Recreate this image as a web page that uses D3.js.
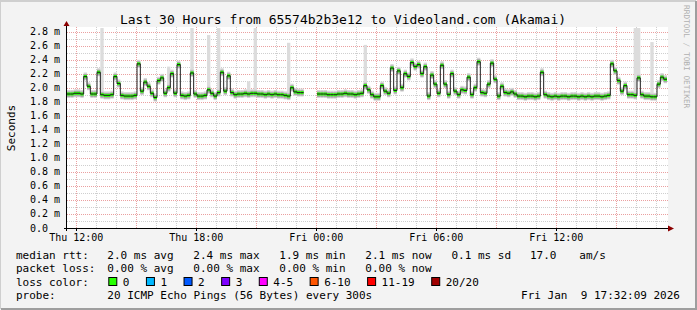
<!DOCTYPE html>
<html>
<head>
<meta charset="utf-8">
<script src="https://cdn.jsdelivr.net/npm/d3@7"></script>
<style>
  body { margin: 0; background: #f3f3f3; }
  text { font-family: "DejaVu Sans Mono", monospace; white-space: pre; }
</style>
</head>
<body>
<div id="chart"></div>
<script>
// median rtt in ms, one value per 10 minutes starting Thu 11:32 (null = no data)
const median = [
  1.91,1.91,1.92,1.92,1.91, 2.16,2.02,1.91,1.91,2.22,
  1.90,1.89,1.89,1.90,2.16, 2.06,1.89,1.88,1.88,1.88,
  1.89,2.34,1.95,2.08,2.02, 1.92,1.86,2.10,2.14,1.92,
  2.00,2.20,1.92,2.33,1.89, 1.88,1.89,2.21,1.91,1.88,
  1.88,1.89,1.97,1.92,1.88, 1.93,2.22,1.95,2.17,1.93,
  1.90,1.91,1.91,1.92,1.91, 1.92,1.92,1.91,1.91,1.90,
  1.91,1.90,1.91,1.90,1.90, 1.89,1.88,2.00,1.94,1.93,
  1.93,null,null,null,null, 1.91,1.91,1.91,1.90,1.90,
  1.90,1.91,1.91,1.92,1.91, 1.91,1.90,1.91,1.92,2.03,
  1.97,1.90,1.87,1.87,2.03, 1.95,1.92,2.28,1.96,2.24,
  2.00,2.20,2.16,2.36,2.30, 2.33,2.20,2.30,1.88,2.18,
  2.05,1.92,2.32,2.05,1.90, 2.20,1.95,1.90,1.97,1.96,
  2.15,1.90,2.00,2.37,1.93, 1.92,2.05,2.35,2.12,1.88,
  2.02,1.93,1.92,1.94,1.91, 1.88,1.88,1.87,1.88,1.88,
  1.87,1.88,2.22,1.90,1.88, 1.87,1.88,1.87,1.88,1.88,
  1.87,1.88,1.88,1.87,1.88, 1.87,1.88,1.87,1.88,1.88,
  1.87,1.88,1.89,2.34,2.24, 2.10,1.95,2.03,1.90,1.90,
  1.89,2.14,1.90,1.88,1.88, 1.87,1.87,2.05,2.15,2.12
];
// slowest ping of a sample where it sticks out: [sample index, ms]
const peaks = [[10,2.85],[30,2.30],[37,2.85],[42,2.75],[45,2.85],[54,2.09],
  [56,2.85],[66,2.64],[89,2.61],[170,2.85],[171,2.85],[175,2.65]];

const yTicks = [0,0.2,0.4,0.6,0.8,1.0,1.2,1.4,1.6,1.8,2.0,2.2,2.4,2.6,2.8];
const xLabelHours = [
  new Date(2026,0,8,12), new Date(2026,0,8,18), new Date(2026,0,9,0),
  new Date(2026,0,9,6), new Date(2026,0,9,12)
];
const rttStats = ["2.0 ms avg","2.4 ms max","1.9 ms min","2.1 ms now","0.1 ms sd","17.0","am/s"];
const lossStats = ["0.00 % avg","0.00 % max","0.00 % min","0.00 % now"];
const lossLabels = ["0","1","2","3","4-5","6-10","11-19","20/20"];
const lossColors = ["#26ff00","#00b8ff","#0059ff","#7e00ff","#ff00ff","#ff5500","#ff0000","#a00000"];

const width = 697, height = 310;
const start = new Date(2026,0,8,11,32,9);
const end = new Date(2026,0,9,17,32,9);
const stepMs = 10 * 60 * 1000;

const x = d3.scaleTime().domain([start, end]).range([67, 667]);
const y = d3.scaleLinear().domain([0, 2.865]).range([228, 27]);

const svg = d3.select("#chart").append("svg")
    .attr("width", width).attr("height", height);

// frame
svg.append("rect").attr("width", width).attr("height", height).attr("fill", "#f3f3f3");
svg.append("path").attr("d", `M0,${height-1}V1H${width-1}`)
    .attr("stroke", "#cfcfcf").attr("stroke-width", 2).attr("fill", "none");
svg.append("path").attr("d", `M1,${height-1}H${width-1}V1`)
    .attr("stroke", "#9e9e9e").attr("stroke-width", 2).attr("fill", "none");

// canvas
svg.append("rect").attr("x", 67).attr("y", 27).attr("width", 601).attr("height", 201)
    .attr("fill", "#ffffff");

const crisp = v => Math.round(v) + 0.5;

// grid
const grid = svg.append("g");
d3.range(1, 29, 2).map(d => d / 10).forEach(v => {
  grid.append("line").attr("x1", 67).attr("x2", 668)
    .attr("y1", crisp(y(v))).attr("y2", crisp(y(v)))
    .attr("stroke", "#cfcfcf").attr("stroke-dasharray", "1,1");
});
yTicks.slice(1).forEach(v => {
  grid.append("line").attr("x1", 67).attr("x2", 668)
    .attr("y1", crisp(y(v))).attr("y2", crisp(y(v)))
    .attr("stroke", "#eaa0a0").attr("stroke-dasharray", "1,1");
});
d3.timeHour.range(start, end).forEach(t => {
  const major = t.getHours() % 3 === 0;
  grid.append("line").attr("x1", crisp(x(t))).attr("x2", crisp(x(t)))
    .attr("y1", 27).attr("y2", 228)
    .attr("stroke", major ? "#eaa0a0" : "#cfcfcf").attr("stroke-dasharray", "1,1");
});

// samples
const samples = median.map((v, i) => ({
  t0: new Date(start.getTime() + i * stepMs),
  t1: new Date(start.getTime() + (i + 1) * stepMs),
  v: v
}));
const valid = samples.filter(d => d.v != null);
const peakMap = new Map(peaks);

const smoke = svg.append("g");
samples.forEach((d, i) => {
  if (d.v == null || !peakMap.has(i)) return;
  smoke.append("rect")
    .attr("x", x(d.t0)).attr("width", x(d.t1) - x(d.t0))
    .attr("y", y(peakMap.get(i))).attr("height", y(d.v) - y(peakMap.get(i)))
    .attr("fill", "#dcdcdc");
});
smoke.selectAll("rect.outer").data(valid).enter().append("rect")
    .attr("x", d => x(d.t0)).attr("width", d => x(d.t1) - x(d.t0))
    .attr("y", d => y(d.v) - 4).attr("height", 8)
    .attr("fill", "#d6d6d6");
smoke.selectAll("rect.inner").data(valid).enter().append("rect")
    .attr("x", d => x(d.t0)).attr("width", d => x(d.t1) - x(d.t0))
    .attr("y", d => y(d.v) - 2.5).attr("height", 5.5)
    .attr("fill", "#a8a8a8");

// loss coloured band around the median
svg.append("g").selectAll("rect").data(valid).enter().append("rect")
    .attr("x", d => x(d.t0)).attr("width", d => x(d.t1) - x(d.t0))
    .attr("y", d => y(d.v) - 1.5).attr("height", 3)
    .attr("fill", lossColors[0]);

// median step line
const pts = [];
samples.forEach((d, i) => {
  pts.push({t: d.t0, v: d.v});
  const next = samples[i + 1];
  if (d.v != null && (!next || next.v == null)) pts.push({t: d.t1, v: d.v});
  if (d.v == null) pts.push({t: d.t0, v: null});
});
const line = d3.line()
    .defined(d => d.v != null)
    .x(d => x(d.t)).y(d => y(d.v))
    .curve(d3.curveStepAfter);
svg.append("path").datum(pts).attr("d", line)
    .attr("fill", "none").attr("stroke", "#202020").attr("stroke-width", 1);

// axes
svg.append("line").attr("x1", 64).attr("x2", 669).attr("y1", 228.5).attr("y2", 228.5)
    .attr("stroke", "#000");
svg.append("line").attr("x1", 66.5).attr("x2", 66.5).attr("y1", 231).attr("y2", 25)
    .attr("stroke", "#000");
svg.append("path").attr("d", "M668,225.5L674,228.5L668,231.5Z").attr("fill", "#8b0000");
svg.append("path").attr("d", "M63.5,26L66.5,21L69.5,26Z").attr("fill", "#8b0000");
xLabelHours.forEach(t => {
  svg.append("line").attr("x1", crisp(x(t))).attr("x2", crisp(x(t)))
    .attr("y1", 228).attr("y2", 231).attr("stroke", "#000");
});

// tick labels
svg.append("g").selectAll("text").data(yTicks).enter().append("text")
    .attr("x", 30).attr("y", d => y(d) + 3.5)
    .attr("font-size", 10).attr("fill", "#000")
    .text(d => d === 0 ? "0.0" : d.toFixed(1) + " m");

const fmt = d3.timeFormat("%a %H:%M");
svg.append("g").selectAll("text").data(xLabelHours).enter().append("text")
    .attr("x", d => x(d)).attr("y", 241)
    .attr("text-anchor", "middle").attr("font-size", 10).attr("fill", "#000")
    .text(d => fmt(d));

// titles
svg.append("text").attr("x", 343).attr("y", 23.5).attr("text-anchor", "middle")
    .attr("font-size", 13).attr("fill", "#000")
    .text("Last 30 Hours from 65574b2b3e12 to Videoland.com (Akamai)");
svg.append("text").attr("transform", "translate(15,128) rotate(-90)")
    .attr("text-anchor", "middle").attr("font-size", 11).attr("fill", "#000")
    .text("Seconds");
svg.append("text").attr("transform", "translate(684,5) rotate(90)")
    .attr("font-size", 7.8).attr("fill", "#b0b0b0")
    .text("RRDTOOL / TOBI OETIKER");

// legend
const lg = svg.append("g").attr("font-size", 11).attr("fill", "#000");
const rows = [258.5, 272, 285.5, 299];
const colX = [107.3, 193.3, 279.3, 365.3, 451.5, 530, 579.3];
lg.append("text").attr("x", 16).attr("y", rows[0]).text("median rtt:");
rttStats.forEach((s, i) => lg.append("text").attr("x", colX[i]).attr("y", rows[0]).text(s));
lg.append("text").attr("x", 16).attr("y", rows[1]).text("packet loss:");
lossStats.forEach((s, i) => lg.append("text").attr("x", colX[i]).attr("y", rows[1]).text(s));
lg.append("text").attr("x", 16).attr("y", rows[2]).text("loss color:");
let bx = 108.3;
lossLabels.forEach((s, i) => {
  lg.append("rect").attr("x", bx + 0.5).attr("y", 277.5).attr("width", 8).attr("height", 8)
    .attr("fill", lossColors[i]).attr("stroke", "#000");
  lg.append("text").attr("x", bx + 14.5).attr("y", rows[2]).text(s);
  bx += 14.5 + s.length * 6.62 + 16.5;
});
lg.append("text").attr("x", 16).attr("y", rows[3]).text("probe:");
lg.append("text").attr("x", 107.3).attr("y", rows[3])
    .text("20 ICMP Echo Pings (56 Bytes) every 300s");
lg.append("text").attr("x", 680).attr("y", rows[3]).attr("text-anchor", "end")
    .text("Fri Jan \u00a09 17:32:09 2026");
</script>
</body>
</html>
